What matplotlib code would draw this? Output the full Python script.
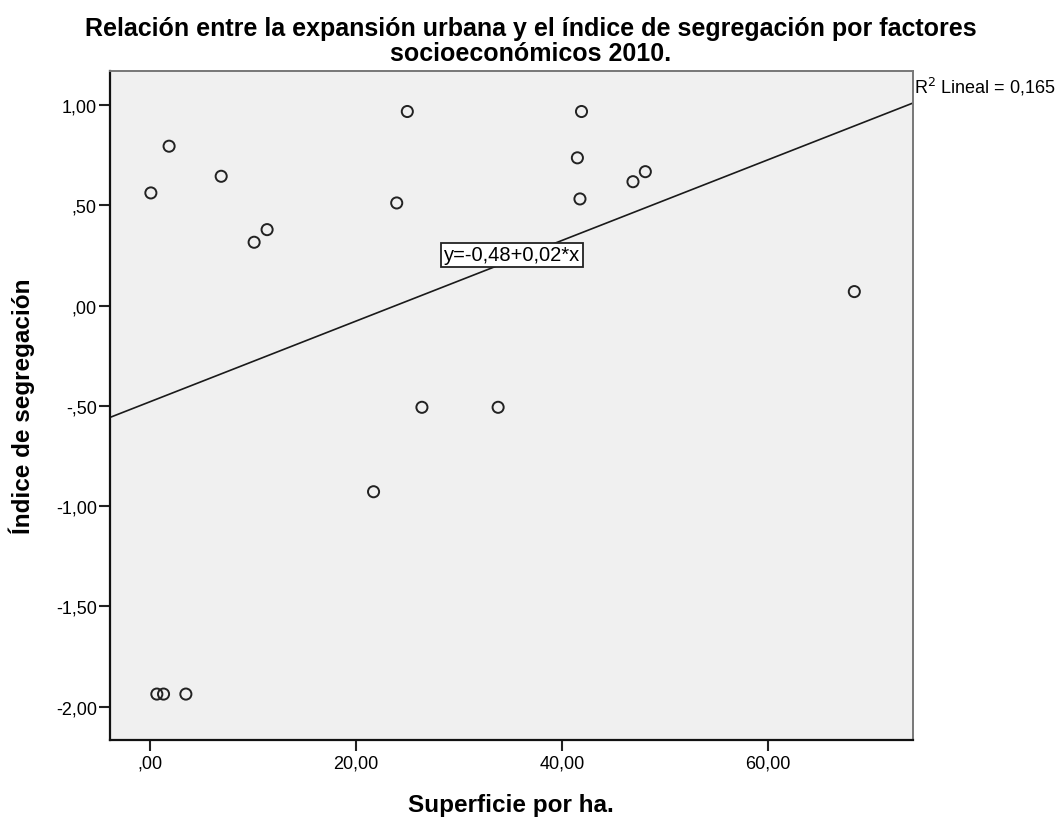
import matplotlib
matplotlib.use("Agg")
import matplotlib.pyplot as plt
import numpy as np

# Data
superficie = [0.07, 1.84, 6.9, 10.1, 11.36, 23.95, 24.98, 41.9, 41.5, 41.75,
              46.9, 48.1, 68.4, 21.7, 26.4, 33.8, 0.65, 1.3, 3.47]
segregacion = [0.562, 0.795, 0.645, 0.316, 0.379, 0.512, 0.968, 0.968, 0.737, 0.532,
               0.618, 0.668, 0.07, -0.928, -0.507, -0.507, -1.937, -1.937, -1.937]

fit_intercept = -0.479
fit_slope = 0.0201
fit_label = "y=-0,48+0,02*x"
r2_label = "R$^2$ Lineal = 0,165"

x_ticks = [0, 20, 40, 60]
x_ticklabels = [",00", "20,00", "40,00", "60,00"]
y_ticks = [1.0, 0.5, 0.0, -0.5, -1.0, -1.5, -2.0]
y_ticklabels = ["1,00", ",50", ",00", "-,50", "-1,00", "-1,50", "-2,00"]

title_lines = ["Relación entre la expansión urbana y el índice de segregación por factores",
               "socioeconómicos 2010."]
xlabel = "Superficie por ha."
ylabel = "Índice de segregación"

plt.rcParams['font.family'] = ['Liberation Sans', 'DejaVu Sans']

W, H = 1062, 820
fig = plt.figure(figsize=(W/100, H/100), dpi=100)
ax = fig.add_axes([110/W, 1 - 741/H, (913-110)/W, (741-72)/H])
ax.set_facecolor("#f0f0f0")

xmin, xmax = -3.9, 74.1
ax.set_xlim(xmin, xmax)
ax.set_ylim(-2.166, 1.17)

xs = np.array([xmin, xmax])
ax.plot(xs, fit_intercept + fit_slope * xs, color="#1a1a1a", lw=1.2, zorder=2)

ax.scatter(superficie, segregacion, s=64, facecolors="none", edgecolors="#222222",
           linewidths=1.4, zorder=3)

ax.text(35.15, 0.253, fit_label, ha="center", va="center", fontsize=14.5,
        bbox=dict(boxstyle="square,pad=0.12", facecolor="white", edgecolor="#222222", lw=1.3),
        zorder=4)

ax.text(914/W, 1 - 94/H, r2_label, transform=fig.transFigure, ha="left",
        va="baseline", fontsize=13)

ax.set_xticks(x_ticks)
ax.set_xticklabels(x_ticklabels, fontsize=13)
ax.set_yticks(y_ticks)
ax.set_yticklabels(y_ticklabels, fontsize=13)
ax.tick_params(axis="x", direction="out", length=8, width=1.5, color="#222222", pad=2.5)
ax.tick_params(axis="y", direction="out", length=8, width=1.5, color="#222222", pad=1.5)

for side in ["left", "bottom"]:
    ax.spines[side].set_color("#111111")
    ax.spines[side].set_linewidth(1.6)
for side in ["top", "right"]:
    ax.spines[side].set_color("#777777")
    ax.spines[side].set_linewidth(1.4)

fig.text(511/W, 1 - 806/H, xlabel, ha="center", va="center", fontsize=17.5, fontweight="bold")
fig.text(22/W, 1 - 406/H, ylabel, ha="center", va="center", rotation=90,
         fontsize=17.5, fontweight="bold")

fig.text(0.5, 1 - 36/H, title_lines[0], ha="center", va="baseline", fontsize=18, fontweight="bold")
fig.text(0.5, 1 - 61/H, title_lines[1], ha="center", va="baseline", fontsize=18, fontweight="bold")

fig.savefig("out.png", dpi=100, facecolor="white")
